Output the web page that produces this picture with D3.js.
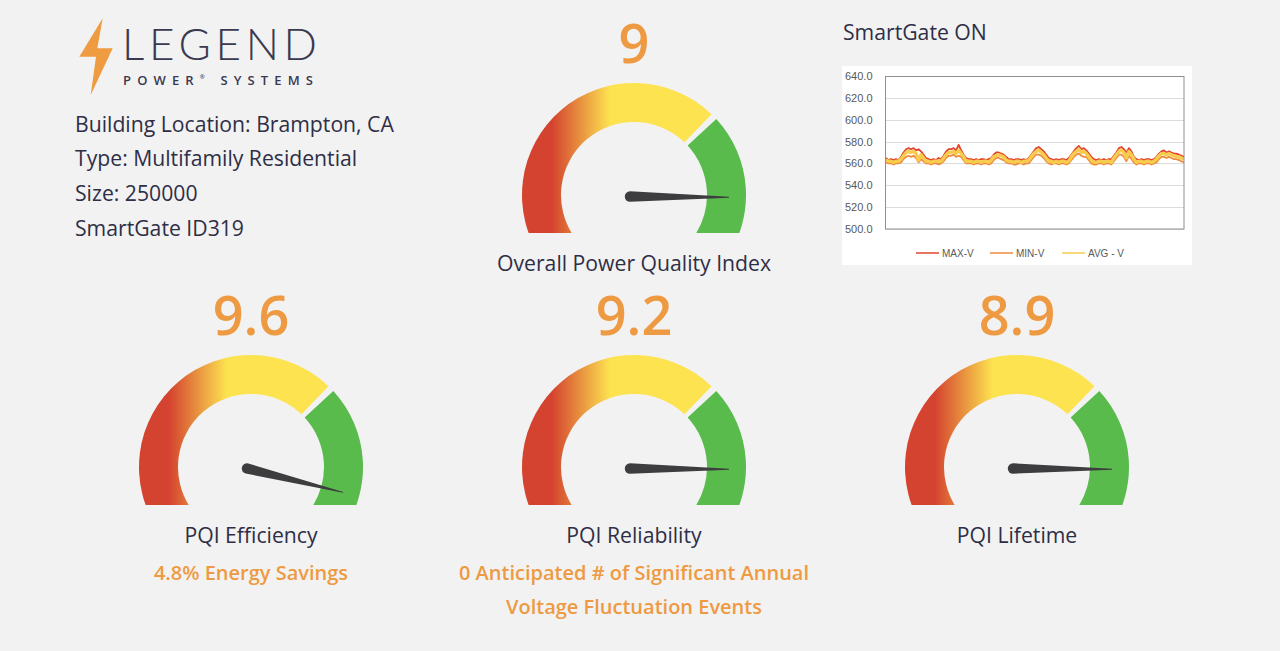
<!DOCTYPE html>
<html>
<head>
<meta charset="utf-8">
<script src="https://cdn.jsdelivr.net/npm/d3@7"></script>
<style>
  body { margin: 0; background: #f2f2f2; }
  svg { display: block; }
</style>
</head>
<body>
<script>
var w = 1280;
var h = 651;

// gauges
var gauge_names = ["Overall Power Quality Index", "PQI Efficiency", "PQI Reliability", "PQI Lifetime"];
var gauge_values = [9, 9.6, 9.2, 8.9];
var needle_values = [9, 9.6, 9, 9];   // where the needles actually point
var gauge_notes = [[], ["4.8% Energy Savings"], ["0 Anticipated # of Significant Annual", "Voltage Fluctuation Events"], []];
var building_info = ["Building Location: Brampton, CA", "Type: Multifamily Residential", "Size: 250000", "SmartGate ID319"];

// voltage chart
var volt_ticks = [500, 520, 540, 560, 580, 600, 620, 640];
var series_names = ["MAX-V", "MIN-V", "AVG - V"];
var max_v = [565, 563, 564, 563, 564, 563, 566, 570, 573, 574, 573, 574, 572, 573, 571, 568, 565,
  564, 563, 564, 563, 565, 564, 567, 571, 573, 573, 574, 572, 577, 572, 568, 565,
  564, 564, 563, 564, 563, 564, 564, 563, 564, 565, 568, 570, 570, 569, 568, 566, 564,
  564, 563, 564, 564, 563, 564, 563, 565, 568, 571, 574, 575, 573, 571, 568, 565,
  564, 563, 564, 563, 564, 564, 563, 565, 568, 571, 574, 576, 573, 574, 572, 569, 566, 564,
  563, 564, 563, 564, 563, 564, 564, 567, 570, 574, 575, 573, 570, 574, 571, 566, 564,
  563, 564, 563, 564, 564, 563, 564, 566, 569, 571, 572, 570, 571, 570, 569, 569, 568, 567, 566];
var min_v = [561, 560, 560, 559, 560, 560, 561, 564, 566, 567, 566, 567, 565, 561, 564, 562, 560,
  560, 559, 560, 560, 559, 560, 562, 565, 567, 567, 568, 566, 567, 566, 563, 560,
  560, 560, 559, 560, 560, 559, 560, 560, 559, 560, 563, 565, 565, 564, 563, 561, 560,
  560, 559, 559, 560, 560, 559, 560, 560, 563, 566, 568, 568, 567, 565, 562, 560,
  559, 560, 560, 559, 560, 560, 559, 560, 563, 566, 568, 569, 567, 566, 566, 563, 560, 559,
  559, 560, 560, 559, 560, 560, 559, 562, 565, 568, 568, 566, 562, 567, 564, 561, 559,
  560, 560, 559, 560, 560, 559, 560, 561, 564, 566, 566, 565, 566, 565, 564, 564, 563, 562, 561];
var avg_v = [563, 562, 562, 561, 562, 562, 564, 567, 570, 571, 570, 571, 569, 563, 568, 565, 562,
  562, 561, 562, 562, 562, 562, 565, 568, 570, 570, 571, 569, 572, 569, 566, 562,
  562, 562, 561, 562, 562, 561, 562, 562, 561, 563, 566, 567, 568, 567, 566, 563, 562,
  562, 561, 562, 562, 561, 562, 562, 563, 566, 569, 571, 572, 570, 568, 565, 562,
  562, 561, 562, 561, 562, 562, 561, 562, 566, 569, 571, 573, 570, 571, 569, 566, 563, 561,
  561, 562, 562, 561, 562, 562, 561, 565, 568, 571, 572, 570, 565, 571, 568, 564, 561,
  562, 562, 561, 562, 562, 561, 562, 564, 567, 569, 569, 568, 569, 568, 567, 566, 566, 565, 564];

// layout
var gauge_pos = [[634, 195], [251, 467], [634, 467], [1017, 467]];
var r_out = 112, r_in = 73;
var deg = Math.PI / 180;
var orange = "#ee9a42", ink = "#2f2e47";
var body_font = "'Open Sans', sans-serif";
var series_colors = ["#e2452b", "#ee8a3c", "#f7cb4e"];
var series_widths = [1.8, 1.8, 3.4];

var svg = d3.select("body").append("svg").attr("width", w).attr("height", h);
svg.append("rect").attr("width", w).attr("height", h).attr("fill", "#f2f2f2");

var defs = svg.append("defs");
var grad = defs.append("linearGradient").attr("id", "redyellow")
  .attr("gradientUnits", "userSpaceOnUse")
  .attr("x1", -82).attr("y1", 0).attr("x2", -24).attr("y2", 0);
grad.append("stop").attr("offset", 0).attr("stop-color", "#d4432f");
grad.append("stop").attr("offset", 1).attr("stop-color", "#fde350");

//logo
svg.append("path")
  .attr("d", "M102.7,18.3 L79.3,56.7 L96,56.7 L90.7,95 L112.7,48.3 L97.3,48.3 Z")
  .attr("fill", "#ef9b41");
svg.append("text").attr("x", 122).attr("y", 60)
  .attr("font-family", "Lato, 'Open Sans', sans-serif").attr("font-weight", 300)
  .attr("font-size", 44).attr("fill", "#3a3950")
  .attr("textLength", 195).attr("lengthAdjust", "spacing")
  .text("LEGEND");
var sub = svg.append("text").attr("x", 123).attr("y", 85)
  .attr("font-family", body_font).attr("font-weight", 600)
  .attr("font-size", 13).attr("fill", "#3a3950")
  .attr("textLength", 190).attr("lengthAdjust", "spacing");
sub.append("tspan").text("POWER");
sub.append("tspan").attr("font-size", 6).attr("dy", -6).text("®");
sub.append("tspan").attr("dy", 6).text(" SYSTEMS");

// building info
svg.selectAll("text.info").data(building_info).enter()
  .append("text")
  .attr("class", "info")
  .attr("x", 75)
  .attr("y", function(d, i) { return 131.5 + i * 34.8; })
  .attr("font-family", body_font)
  .attr("font-size", 21.2)
  .attr("fill", ink)
  .text(function(d) { return d; });

// gauges
var needle_angle = d3.scaleLinear().domain([0, 10]).range([-113, 113]);
var arc = d3.arc().innerRadius(r_in).outerRadius(r_out);

function draw_gauge(i){
  var cx = gauge_pos[i][0], cy = gauge_pos[i][1];
  var g = svg.append("g").attr("transform", "translate(" + cx + "," + cy + ")");

  defs.append("clipPath").attr("id", "clip" + i)
    .append("rect").attr("x", -130).attr("y", -130).attr("width", 260).attr("height", 168);
  var band = g.append("g").attr("clip-path", "url(#clip" + i + ")");
  band.append("path")
    .attr("d", arc({startAngle: -125 * deg, endAngle: 43.8 * deg}))
    .attr("fill", "url(#redyellow)");
  band.append("path")
    .attr("d", arc({startAngle: 47.3 * deg, endAngle: 125 * deg}))
    .attr("fill", "#58bb4b");

  g.append("path")
    .attr("transform", "translate(-4,1.5) rotate(" + needle_angle(needle_values[i]) + ")")
    .attr("d", "M-5.2,0 L-0.5,-99 L0.5,-99 L5.2,0 A5.2,5.2 0 0 1 -5.2,0 Z")
    .attr("fill", "#3d3d3f");

  g.append("text").attr("y", -132.5).attr("text-anchor", "middle")
    .attr("font-family", body_font).attr("font-weight", 600)
    .attr("font-size", 54).attr("fill", orange)
    .text(gauge_values[i]);

  g.append("text").attr("y", 76).attr("text-anchor", "middle")
    .attr("font-family", body_font)
    .attr("font-size", 21.2).attr("fill", ink)
    .text(gauge_names[i]);

  g.selectAll("text.note").data(gauge_notes[i]).enter()
    .append("text").attr("class", "note")
    .attr("y", function(d, j) { return 113 + j * 33.5; })
    .attr("text-anchor", "middle")
    .attr("font-family", body_font).attr("font-weight", 600)
    .attr("font-size", 20).attr("fill", orange)
    .text(function(d) { return d; });
}

for (i=0; i<gauge_values.length; i++){
  draw_gauge(i);
}

// SmartGate voltage chart
svg.append("text").attr("x", 843).attr("y", 40)
  .attr("font-family", body_font).attr("font-size", 21.2).attr("fill", ink)
  .text("SmartGate ON");

svg.append("rect").attr("x", 842).attr("y", 66).attr("width", 350).attr("height", 199).attr("fill", "#ffffff");

var x = d3.scaleLinear().domain([0, max_v.length - 1]).range([886, 1184]);
var y = d3.scaleLinear().domain([500, 640]).range([229, 76]);

svg.selectAll("line.grid").data(volt_ticks).enter()
  .append("line").attr("class", "grid")
  .attr("x1", 886).attr("x2", 1184)
  .attr("y1", function(d) { return Math.round(y(d)) + 0.5; })
  .attr("y2", function(d) { return Math.round(y(d)) + 0.5; })
  .attr("stroke", "#dcdcdc").attr("stroke-width", 1);

var yaxis = svg.append("g").attr("transform", "translate(885.5,0)")
  .call(d3.axisLeft(y).tickValues(volt_ticks).tickFormat(d3.format(".1f")).tickSize(0).tickPadding(13));
yaxis.select(".domain").remove();
yaxis.selectAll("text").attr("font-family", "'Liberation Sans', Arial, sans-serif")
  .attr("font-size", 11).attr("fill", "#595959");

var line = d3.line()
  .x(function(d, i) { return x(i); })
  .y(function(d) { return y(d); });

var all_series = [max_v, min_v, avg_v];
svg.selectAll("path.volt").data(all_series).enter()
  .append("path").attr("class", "volt")
  .attr("d", line)
  .attr("fill", "none")
  .attr("stroke", function(d, i) { return series_colors[i]; })
  .attr("stroke-width", function(d, i) { return series_widths[i]; })
  .attr("stroke-linejoin", "round");

svg.append("rect").attr("x", 885.5).attr("y", 76.5).attr("width", 298.5).attr("height", 152.5)
  .attr("fill", "none").attr("stroke", "#8f8f8f").attr("stroke-width", 1);

var legend_x = [916, 990, 1062];
var legend = svg.selectAll("g.legend").data(series_names).enter()
  .append("g").attr("class", "legend")
  .attr("transform", function(d, i) { return "translate(" + legend_x[i] + ",253)"; });
legend.append("line").attr("x1", 0).attr("x2", 23)
  .attr("stroke", function(d, i) { return series_colors[i]; }).attr("stroke-width", 1.5);
legend.append("text").attr("x", 26).attr("y", 3.5)
  .attr("font-family", "'Liberation Sans', Arial, sans-serif").attr("font-size", 10).attr("fill", "#595959")
  .text(function(d) { return d; });
</script>
</body>
</html>
